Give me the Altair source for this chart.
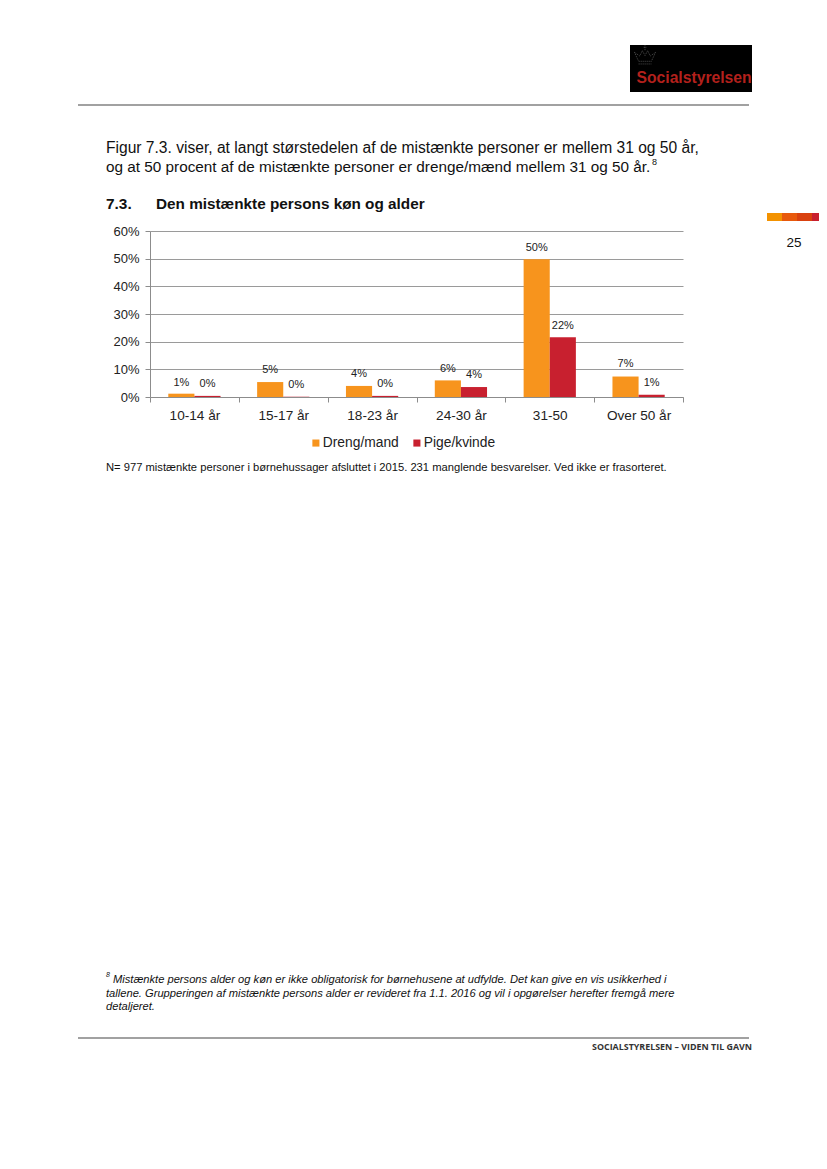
import altair as alt
import pandas as pd

FONT = "Liberation Sans"

# ---- chart values
ages = ["10-14 år", "15-17 år", "18-23 år", "24-30 år", "31-50", "Over 50 år"]
series_names = ["Dreng/mand", "Pige/kvinde"]
boys = [1.2, 5.4, 4.0, 6.0, 49.8, 7.4]
girls = [0.4, 0.1, 0.4, 3.6, 21.6, 0.8]
boy_labels = ["1%", "5%", "4%", "6%", "50%", "7%"]
girl_labels = ["0%", "0%", "0%", "4%", "22%", "1%"]
# height (in percentage points) at which each hand-placed data label sits
boy_label_at = [5.2, 9.8, 8.3, 10.1, 54.0, 11.9]
girl_label_at = [4.7, 4.3, 4.7, 8.0, 25.7, 5.1]
colors = ["#F7941D", "#C8202F"]
y_ticks = [0, 10, 20, 30, 40, 50, 60]

# ---- page texts
body_lines = [
    "Figur 7.3. viser, at langt størstedelen af de mistænkte personer er mellem 31 og 50 år,",
    "og at 50 procent af de mistænkte personer er drenge/mænd mellem 31 og 50 år.",
]
section_no = "7.3."
section_title = "Den mistænkte persons køn og alder"
note = "N= 977 mistænkte personer i børnehussager afsluttet i 2015. 231 manglende besvarelser. Ved ikke er frasorteret."
foot_lines = [
    "Mistænkte persons alder og køn er ikke obligatorisk for børnehusene at udfylde. Det kan give en vis usikkerhed i",
    "tallene. Grupperingen af mistænkte persons alder er revideret fra 1.1. 2016 og vil i opgørelser herefter fremgå mere",
    "detaljeret.",
]
footer_text = "SOCIALSTYRELSEN – VIDEN TIL GAVN"
logo_text = "Socialstyrelsen"
page_no = "25"
strip_colors = ["#F39200", "#E8590C", "#D9410F", "#C8202F"]

rows = []
for i, a in enumerate(ages):
    rows.append(dict(age=a, s=series_names[0], v=boys[i], lab=boy_labels[i], at=boy_label_at[i]))
    rows.append(dict(age=a, s=series_names[1], v=girls[i], lab=girl_labels[i], at=girl_label_at[i]))
df = pd.DataFrame(rows)

PX, PY, W, H = 150, 231, 533, 166

x_enc = alt.X("age:N", sort=ages, title=None,
              scale=alt.Scale(paddingInner=0, paddingOuter=0),
              axis=alt.Axis(labelAngle=0, labelFont=FONT, labelFontSize=13.6, labelColor="#222222",
                            tickBand="extent", tickSize=5, tickColor="#8c8c8c", domainColor="#8c8c8c",
                            labelPadding=6, grid=False))
off_enc = alt.XOffset("s:N", sort=series_names, scale=alt.Scale(paddingInner=0, paddingOuter=0.7))
y_scale = alt.Scale(domain=[0, 60])
y_axis = alt.Axis(values=y_ticks, labelExpr="datum.value + '%'", labelFont=FONT, labelOverlap=False,
                  labelFontSize=13, labelColor="#222222", tickSize=5, tickColor="#8c8c8c",
                  domainColor="#8c8c8c", gridColor="#9a9a9a", gridWidth=1, labelPadding=6)

bars = alt.Chart(df).mark_bar().encode(
    x=x_enc, xOffset=off_enc,
    y=alt.Y("v:Q", title=None, scale=y_scale, axis=y_axis),
    color=alt.Color("s:N", sort=series_names, title=None,
                    scale=alt.Scale(domain=series_names, range=colors),
                    legend=alt.Legend(orient="none", legendX=159, legendY=205, direction="horizontal",
                                      symbolType="square", symbolSize=50, symbolStrokeWidth=0,
                                      labelFont=FONT, labelFontSize=13.8, labelColor="#222222",
                                      columnPadding=11, labelOffset=0, labelLimit=200)),
)

value_labels = alt.Chart(df).mark_text(font=FONT, fontSize=11, color="#222222").encode(
    x=x_enc, xOffset=off_enc,
    y=alt.Y("at:Q", title=None, scale=y_scale, axis=y_axis), text="lab:N",
)


def txt(s, x, y, size=15.6, weight="normal", style="normal", align="left", color="#111111", font=FONT):
    return alt.Chart().mark_text(text=s, font=font, fontSize=size, fontWeight=weight, fontStyle=style,
                                 align=align, baseline="middle", color=color).encode(
        x=alt.value(x - PX), y=alt.value(y - PY))


def hline(x1, x2, y, color="#444444", w=1.2):
    return alt.Chart().mark_rule(color=color, strokeWidth=w).encode(
        x=alt.value(x1 - PX), x2=alt.value(x2 - PX), y=alt.value(y - PY))


def box(x1, x2, y1, y2, color):
    return alt.Chart().mark_rect(color=color).encode(
        x=alt.value(x1 - PX), x2=alt.value(x2 - PX), y=alt.value(y1 - PY), y2=alt.value(y2 - PY))


crown = ("M-1,-0.35 L-0.6,0.5 L0.6,0.5 L1,-0.35 L0.5,0 L0.25,-0.5 L0,-0.05 L-0.25,-0.5 L-0.5,0 Z "
         "M-0.6,0.75 L0.6,0.75 M0,-0.55 L0,-1 M-0.12,-0.82 L0.12,-0.82")
crown_mark = alt.Chart().mark_point(shape=crown, size=450, color="#8a8a8a", strokeWidth=0.8,
                                    filled=False, strokeDash=[1, 1]).encode(
    x=alt.value(645 - PX), y=alt.value(56 - PY))

page = [
    hline(78, 749, 105),
    box(630, 752, 45, 92, "#000000"),
    crown_mark,
    txt(logo_text, 636.5, 78, size=15.7, weight="bold", color="#B3201C"),
    txt(body_lines[0], 106, 148),
    txt(body_lines[1], 106, 167, size=15.3),
    txt("8", 652, 162, size=9),
    txt(section_no, 106, 203.5, size=15.4, weight="bold"),
    txt(section_title, 156, 203.5, size=15.3, weight="bold"),
    txt(note, 106, 468, size=11.2),
    box(767, 782, 213, 221, strip_colors[0]),
    box(782, 797, 213, 221, strip_colors[1]),
    box(797, 812, 213, 221, strip_colors[2]),
    box(812, 827, 213, 221, strip_colors[3]),
    txt(page_no, 794, 243, size=13.5, align="center"),
    txt("8", 106, 975, size=7, style="italic"),
    txt(foot_lines[0], 113, 980, size=11.15, style="italic"),
    txt(foot_lines[1], 106, 994, size=11.15, style="italic"),
    txt(foot_lines[2], 106, 1007, size=11.15, style="italic"),
    hline(78, 749, 1038),
    txt(footer_text, 752, 1047, size=8.9, weight="bold", align="right", color="#333333", font="Open Sans"),
]

chart = alt.layer(bars, value_labels, *page).properties(
    width=W, height=H,
    padding={"left": PX - 8, "top": PY - 8, "right": 811 - (PX - 8) - W, "bottom": 1130 - PY - H},
    autosize=alt.AutoSizeParams(type="none"),
    background="white",
).configure_view(stroke=None)

chart.save("out.html", embed_options={"renderer": "svg", "actions": False})
